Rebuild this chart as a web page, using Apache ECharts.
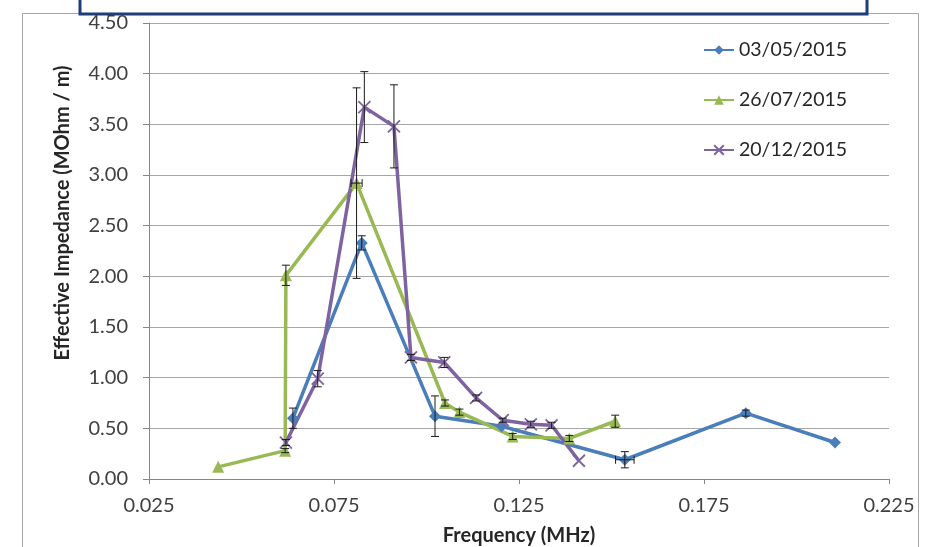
<!DOCTYPE html>
<html>
<head>
<meta charset="utf-8">
<script src="https://cdn.jsdelivr.net/npm/echarts@6/dist/echarts.min.js"></script>
<style>
  html, body { margin: 0; padding: 0; background: #fff; }
  #chart { width: 926px; height: 547px; }
</style>
</head>
<body>
<div id="chart"></div>
<script>
// Frequency (MHz), effective impedance (MOhm / m) and error bar half-widths per campaign
const freqMay = [0.0639, 0.0825, 0.1023, 0.1203, 0.1536, 0.1863, 0.2104];
const impMay  = [0.60, 2.33, 0.62, 0.52, 0.19, 0.65, 0.36];
const errMay  = [0.10, 0.07, 0.20, 0, 0.08, 0.03, 0];
const xErrMay = [0, 0, 0, 0, 0.0025, 0, 0];

const freqJul = [0.0437, 0.0618, 0.0620, 0.0811, 0.1050, 0.1089, 0.1233, 0.1386, 0.1510];
const impJul  = [0.12, 0.28, 2.01, 2.92, 0.75, 0.66, 0.42, 0.40, 0.57];
const errJul  = [0, 0.02, 0.10, 0.94, 0.03, 0.03, 0.03, 0.03, 0.06];
const xErrJul = [0, 0, 0, 0.0015, 0, 0, 0, 0, 0];

const freqDec = [0.0620, 0.0706, 0.0832, 0.0912, 0.0958, 0.1048, 0.1134, 0.1206, 0.1282, 0.1338, 0.1412];
const impDec  = [0.36, 0.99, 3.67, 3.48, 1.20, 1.15, 0.80, 0.58, 0.54, 0.53, 0.18];
const errDec  = [0.03, 0.08, 0.35, 0.41, 0.03, 0.05, 0.03, 0.02, 0.03, 0.03, 0];
const xErrDec = [0, 0, 0, 0, 0, 0, 0, 0, 0, 0, 0];

const seriesNames = ['03/05/2015', '26/07/2015', '20/12/2015'];
const xTicks = { min: 0.025, max: 0.225, step: 0.05 };
const yTicks = { min: 0, max: 4.5, step: 0.5 };

const FONT = 'Lato, "Open Sans", sans-serif';
const colors = ['#4a7ebb', '#98b954', '#7f63a1'];

function pairs(xs, ys) { return xs.map((x, i) => [x, ys[i]]); }
function errItems(xs, ys, es, xe) { return xs.map((x, i) => [x, ys[i], es[i], xe[i]]); }

const xSymbol = 'path://M0,0L10,10M10,0L0,10';

function renderErr(params, api) {
  const x = api.value(0), y = api.value(1), e = api.value(2), ex = api.value(3);
  const children = [];
  const style = { stroke: '#1a1a1a', lineWidth: 1 };
  if (e > 0) {
    const top = api.coord([x, y + e]);
    const bot = api.coord([x, y - e]);
    children.push({ type: 'line', shape: { x1: top[0], y1: top[1], x2: bot[0], y2: bot[1] }, style });
    children.push({ type: 'line', shape: { x1: top[0] - 4, y1: top[1], x2: top[0] + 4, y2: top[1] }, style });
    children.push({ type: 'line', shape: { x1: bot[0] - 4, y1: bot[1], x2: bot[0] + 4, y2: bot[1] }, style });
  }
  if (ex > 0) {
    const l = api.coord([x - ex, y]);
    const r = api.coord([x + ex, y]);
    children.push({ type: 'line', shape: { x1: l[0], y1: l[1], x2: r[0], y2: r[1] }, style });
    children.push({ type: 'line', shape: { x1: l[0], y1: l[1] - 4, x2: l[0], y2: l[1] + 4 }, style });
    children.push({ type: 'line', shape: { x1: r[0], y1: r[1] - 4, x2: r[0], y2: r[1] + 4 }, style });
  }
  return { type: 'group', children };
}

const chart = echarts.init(document.getElementById('chart'), null, { renderer: 'canvas', width: 926, height: 547 });

chart.setOption({
  animation: false,
  backgroundColor: '#ffffff',
  grid: { left: 149, right: 37, top: 23, bottom: 68, containLabel: false, outerBoundsMode: 'none' },
  xAxis: {
    type: 'value',
    min: xTicks.min, max: xTicks.max, interval: xTicks.step,
    name: 'Frequency (MHz)',
    nameLocation: 'middle',
    nameGap: 47,
    nameTextStyle: { fontFamily: FONT, fontSize: 20, fontWeight: 'bold', color: '#262626' },
    axisLine: { onZero: false, lineStyle: { color: '#868686', width: 1 } },
    axisTick: { show: true, length: 5, lineStyle: { color: '#868686' } },
    axisLabel: {
      fontFamily: FONT, fontSize: 20, color: '#404040', margin: 17,
      formatter: v => v.toFixed(3)
    },
    splitLine: { show: false }
  },
  yAxis: {
    type: 'value',
    min: yTicks.min, max: yTicks.max, interval: yTicks.step,
    axisLine: { show: true, lineStyle: { color: '#868686', width: 1 } },
    axisTick: { show: true, length: 6, lineStyle: { color: '#868686' } },
    axisLabel: {
      fontFamily: FONT, fontSize: 20, color: '#404040', margin: 21,
      formatter: v => v.toFixed(2)
    },
    splitLine: { show: true, lineStyle: { color: '#a6a6a6', width: 1 } }
  },
  legend: {
    orient: 'vertical',
    left: 703, top: 40,
    padding: 0,
    itemWidth: 30, itemHeight: 12,
    itemGap: 30,
    textStyle: { fontFamily: FONT, fontSize: 19.5, color: '#262626', lineHeight: 20 },
    data: seriesNames
  },
  graphic: [
    {
      type: 'rect', z: 1, silent: true,
      shape: { x: 22.5, y: 13.5, width: 896, height: 560 },
      style: { fill: 'none', stroke: '#a6a6a6', lineWidth: 1 }
    },
    {
      type: 'rect', z: 2, silent: true,
      shape: { x: 80, y: -10, width: 787, height: 24 },
      style: { fill: '#ffffff', stroke: '#1f3d7a', lineWidth: 3 }
    },
    {
      type: 'text', silent: true,
      x: 63, y: 213, rotation: Math.PI / 2,
      style: {
        text: 'Effective Impedance (MOhm / m)',
        fontFamily: FONT, fontSize: 20, fontWeight: 'bold', fill: '#262626',
        align: 'center', verticalAlign: 'middle'
      }
    }
  ],
  series: [
    {
      name: seriesNames[0], type: 'line', data: pairs(freqMay, impMay),
      symbol: 'diamond', symbolSize: 12,
      lineStyle: { color: colors[0], width: 3.5 },
      itemStyle: { color: colors[0] }, z: 3
    },
    {
      name: seriesNames[1], type: 'line', data: pairs(freqJul, impJul),
      symbol: 'triangle', symbolSize: 12,
      lineStyle: { color: colors[1], width: 3.5 },
      itemStyle: { color: colors[1] }, z: 3
    },
    {
      name: seriesNames[2], type: 'line', data: pairs(freqDec, impDec),
      symbol: xSymbol, symbolSize: 12,
      lineStyle: { color: colors[2], width: 3.5 },
      itemStyle: { color: colors[2], borderColor: colors[2], borderWidth: 1.8 }, z: 3
    },
    { type: 'custom', renderItem: renderErr, data: errItems(freqMay, impMay, errMay, xErrMay), z: 5, silent: true },
    { type: 'custom', renderItem: renderErr, data: errItems(freqJul, impJul, errJul, xErrJul), z: 5, silent: true },
    { type: 'custom', renderItem: renderErr, data: errItems(freqDec, impDec, errDec, xErrDec), z: 5, silent: true }
  ]
});
</script>
</body>
</html>
